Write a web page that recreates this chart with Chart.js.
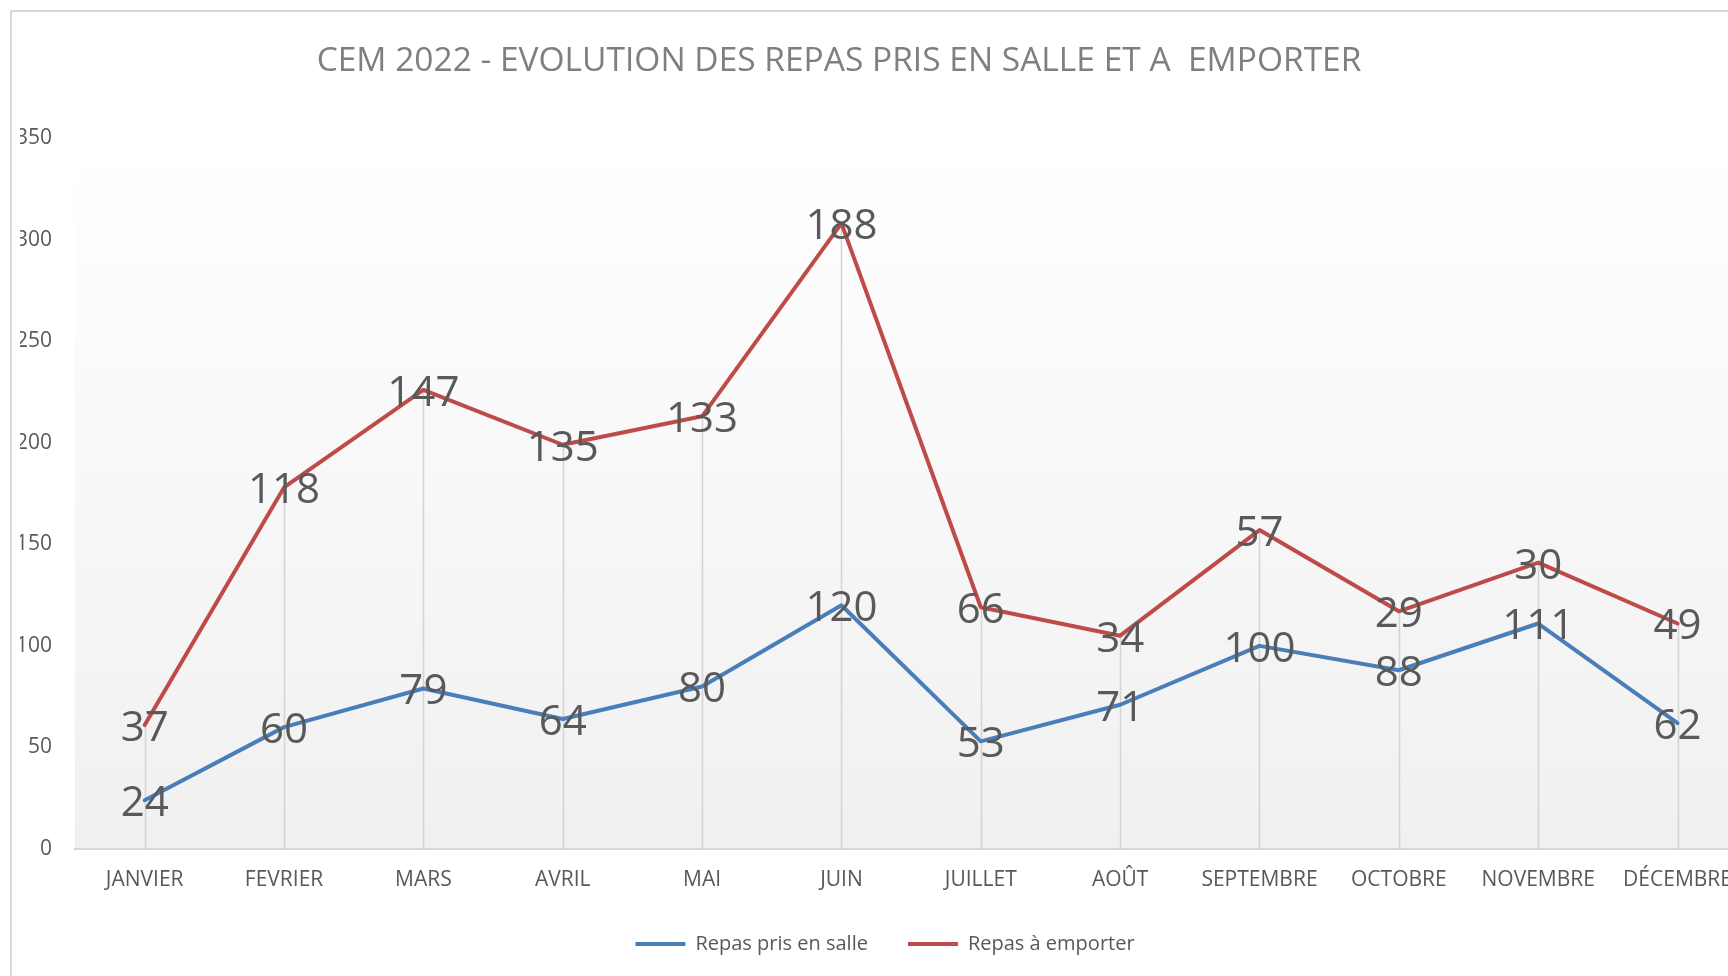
<!DOCTYPE html>
<html>
<head>
<meta charset="utf-8">
<script src="https://cdn.jsdelivr.net/npm/chart.js@4.4.1/dist/chart.umd.min.js"></script>
<style>
  html, body { margin: 0; padding: 0; background: #ffffff; overflow: hidden; width: 1728px; height: 976px; }
  #frame { position: absolute; left: 10px; top: 10px; width: 2000px; height: 2000px; border-left: 2px solid #d9d9d9; border-top: 2px solid #d9d9d9; box-sizing: border-box; }
  #title { position: absolute; left: 0; top: 36px; width: 1678px; text-align: center; font-family: "Open Sans", sans-serif; font-size: 33.5px; line-height: 44px; color: #7f7f7f; white-space: pre; }
  #c { position: absolute; left: 0; top: 0; }
</style>
</head>
<body>
<div id="frame"></div>
<canvas id="c" width="1750" height="976"></canvas>
<div id="title">CEM 2022 - EVOLUTION DES REPAS PRIS EN SALLE ET A  EMPORTER</div>
<script>
const categories = ["JANVIER", "FEVRIER", "MARS", "AVRIL", "MAI", "JUIN", "JUILLET", "AOÛT", "SEPTEMBRE", "OCTOBRE", "NOVEMBRE", "DÉCEMBRE"];
const seriesNames = ["Repas pris en salle", "Repas à emporter"];
const repasSalle = [24, 60, 79, 64, 80, 120, 53, 71, 100, 88, 111, 62];
const repasEmporter = [37, 118, 147, 135, 133, 188, 66, 34, 57, 29, 30, 49];
const yTicks = [0, 50, 100, 150, 200, 250, 300, 350];

const FONT = '"Open Sans", sans-serif';

const plotBg = {
  id: 'plotBg',
  beforeDraw(chart) {
    const {ctx, chartArea: a} = chart;
    const g = ctx.createLinearGradient(0, a.top, 0, a.bottom);
    g.addColorStop(0, '#ffffff');
    g.addColorStop(1, '#f0f0f0');
    ctx.save();
    ctx.fillStyle = g;
    ctx.fillRect(a.left, a.top, a.right - a.left, a.bottom - a.top);
    ctx.restore();
  }
};

const dropLines = {
  id: 'dropLines',
  beforeDatasetsDraw(chart) {
    const {ctx, chartArea: a} = chart;
    const top = chart.getDatasetMeta(chart.data.datasets.length - 1);
    ctx.save();
    ctx.strokeStyle = '#d4d4d4';
    ctx.lineWidth = 1.5;
    top.data.forEach(el => {
      ctx.beginPath();
      ctx.moveTo(Math.round(el.x) + 0.5, el.y);
      ctx.lineTo(Math.round(el.x) + 0.5, a.bottom);
      ctx.stroke();
    });
    ctx.restore();
  }
};

const valueLabels = {
  id: 'valueLabels',
  afterDatasetsDraw(chart) {
    const {ctx} = chart;
    ctx.save();
    ctx.font = '42px ' + FONT;
    ctx.fillStyle = '#595959';
    ctx.textAlign = 'center';
    ctx.textBaseline = 'middle';
    chart.data.datasets.forEach((ds, di) => {
      const meta = chart.getDatasetMeta(di);
      meta.data.forEach((el, i) => {
        ctx.fillText(String(ds.data[i]), el.x, el.y + 4);
      });
    });
    ctx.restore();
  }
};

new Chart(document.getElementById('c'), {
  type: 'line',
  data: {
    labels: categories,
    datasets: [
      { label: seriesNames[0], data: repasSalle, borderColor: '#4a7ebb', backgroundColor: '#4a7ebb', borderWidth: 4, pointRadius: 0, tension: 0, fill: false, borderJoinStyle: 'round', borderCapStyle: 'round' },
      { label: seriesNames[1], data: repasEmporter, borderColor: '#be4b48', backgroundColor: '#be4b48', borderWidth: 4, pointRadius: 0, tension: 0, fill: false, borderJoinStyle: 'round', borderCapStyle: 'round' }
    ]
  },
  options: {
    responsive: false,
    animation: false,
    events: [],
    layout: { padding: { left: 20, right: 0, top: 138, bottom: 12 } },
    scales: {
      x: {
        offset: true,
        grid: { display: false, drawTicks: false },
        border: { display: true, color: '#d9d9d9', width: 2 },
        ticks: { color: '#595959', font: { family: FONT, size: 21 }, padding: 18, maxRotation: 0, autoSkip: false },
        afterFit(s) { s.height = 45; }
      },
      y: {
        stacked: true,
        min: 0,
        max: 350,
        afterBuildTicks(s) { s.ticks = yTicks.map(v => ({value: v})); },
        grid: { display: false, drawTicks: false },
        border: { display: false },
        ticks: { color: '#595959', font: { family: FONT, size: 21 }, padding: 23 },
        afterFit(s) { s.width = 55; }
      }
    },
    plugins: {
      title: { display: false },
      tooltip: { enabled: false },
      legend: {
        position: 'bottom',
        labels: {
          color: '#595959',
          font: { family: FONT, size: 20 },
          boxWidth: 50,
          boxHeight: 4,
          padding: 40,
          generateLabels(chart) {
            return chart.data.datasets.map((ds, i) => ({
              text: ds.label, fillStyle: ds.borderColor, strokeStyle: ds.borderColor, lineWidth: 0, hidden: false, datasetIndex: i, fontColor: '#595959'
            }));
          }
        }
      }
    }
  },
  plugins: [plotBg, dropLines, valueLabels]
});
</script>
</body>
</html>
